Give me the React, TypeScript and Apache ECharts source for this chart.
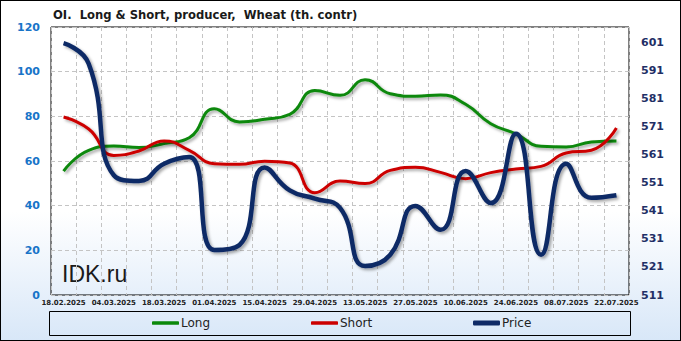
import React, { useEffect, useRef } from "react";
import * as echarts from "echarts";

const dates = [
  "18.02.2025", "25.02.2025", "04.03.2025", "11.03.2025", "18.03.2025", "25.03.2025",
  "01.04.2025", "08.04.2025", "15.04.2025", "22.04.2025", "29.04.2025", "06.05.2025",
  "13.05.2025", "20.05.2025", "27.05.2025", "03.06.2025", "10.06.2025", "17.06.2025",
  "24.06.2025", "01.07.2025", "08.07.2025", "15.07.2025", "22.07.2025",
];
const longValues = [
  55.5, 64.8, 66.7, 66.0, 67.8, 70.4, 83.4, 77.5, 78.7, 80.9, 91.6, 89.4,
  96.4, 90.1, 89.0, 89.6, 85.4, 76.7, 72.2, 66.6, 66.3, 68.5, 69.0,
];
const shortValues = [
  79.7, 74.3, 62.5, 64.5, 69.0, 64.8, 58.8, 58.5, 59.9, 59.1, 45.8, 51.0,
  49.9, 55.8, 57.2, 54.9, 52.1, 54.8, 56.4, 57.6, 63.6, 64.8, 74.8,
];
const priceValues = [
  600.6, 593.3, 553.6, 551.6, 557.7, 560.1, 527.0, 528.8, 556.4, 548.2, 545.3, 542.0,
  521.3, 525.3, 542.7, 534.2, 555.1, 543.7, 568.4, 525.3, 557.7, 545.6, 546.5,
];
const leftTicks = [0, 20, 40, 60, 80, 100, 120];
const rightTicks = [511, 521, 531, 541, 551, 561, 571, 581, 591, 601];

const titleText = "OI.  Long & Short, producer,  Wheat (th. contr)";
const seriesNames = ["Long", "Short", "Price"];
const seriesColors = ["#0a880a", "#cc0000", "#0f2a66"];

export default function App() {
  const ref = useRef<HTMLDivElement>(null);
  useEffect(() => {
    if (!ref.current) return;
    const chart = echarts.init(ref.current, null, { renderer: "svg" });
    const shadow = {
      shadowColor: "rgba(0,0,0,0.35)",
      shadowBlur: 3,
      shadowOffsetX: 2,
      shadowOffsetY: 2,
    };
    const legendLefts = [152, 311, 473];
    const legendThick = [3.5, 3.5, 5];
    const smoothness = 0.5;
    chart.setOption({
      animation: false,
      backgroundColor: {
        type: "linear",
        x: 0, y: 0, x2: 0, y2: 1,
        colorStops: [
          { offset: 0, color: "#ffffff" },
          { offset: 0.62, color: "#ffffff" },
          { offset: 1, color: "#d8e7f8" },
        ],
      },
      title: {
        text: titleText,
        left: 48,
        top: 4,
        textStyle: {
          fontFamily: "DejaVu Sans",
          fontWeight: "bold",
          fontSize: 11.6,
          color: "#1a1a1a",
        },
      },
      grid: {
        left: 51,
        right: 52,
        top: 27,
        bottom: 46,
        show: true,
        borderColor: "#000",
        borderWidth: 1,
        backgroundColor: "transparent",
      },
      legend: seriesNames.map((n, i) => ({
        data: [{ name: n, icon: "roundRect" }],
        left: legendLefts[i],
        top: 317,
        padding: 0,
        itemWidth: 27,
        itemHeight: legendThick[i],
        itemGap: 3,
        itemStyle: { shadowBlur: 0, shadowOffsetX: 0, shadowOffsetY: 0 },
        textStyle: {
          fontFamily: "DejaVu Sans",
          fontSize: 12,
          color: "#222",
          padding: [0, 0, 0, -3],
        },
      })),
      xAxis: {
        type: "category",
        data: dates,
        boundaryGap: true,
        axisLine: { show: false },
        axisTick: { show: false },
        axisLabel: {
          interval: 1,
          margin: 4,
          fontFamily: "DejaVu Sans",
          fontWeight: "bold",
          fontSize: 7,
          color: "#222",
        },
        splitLine: {
          show: true,
          interval: 0,
          lineStyle: { color: "#c4c4c4", type: [4, 3], width: 1 },
        },
      },
      yAxis: [
        {
          type: "value",
          min: leftTicks[0],
          max: leftTicks[leftTicks.length - 1],
          interval: 20,
          axisLine: { show: false },
          axisTick: { show: false },
          axisLabel: {
            margin: 11,
            fontFamily: "DejaVu Sans",
            fontWeight: "bold",
            fontSize: 11,
            color: "#1874c8",
          },
          splitLine: {
            show: true,
            lineStyle: { color: "#c4c4c4", type: [4, 3], width: 1 },
          },
        },
        {
          type: "value",
          min: 511,
          max: 606.35,
          position: "right",
          axisLine: { show: false },
          axisTick: { show: false },
          splitLine: { show: false },
          axisLabel: {
            customValues: rightTicks,
            margin: 12,
            fontFamily: "DejaVu Sans",
            fontWeight: "bold",
            fontSize: 11,
            color: "#1f2f66",
          },
        },
      ],
      graphic: [
        {
          type: "rect",
          shape: { x: 49.5, y: 311.5, width: 581, height: 24 },
          style: { fill: "transparent", stroke: "#000", lineWidth: 1 },
          silent: true,
        },
        {
          type: "text",
          left: 62,
          top: 262,
          style: {
            text: "IDK.ru",
            fontFamily: "Liberation Sans",
            fontSize: 23,
            fill: "#1a1a1a",
          },
          silent: true,
        },
      ],
      series: [
        {
          name: seriesNames[0],
          type: "line",
          data: longValues,
          yAxisIndex: 0,
          smooth: smoothness,
          symbol: "none",
          color: seriesColors[0],
          lineStyle: { width: 3, color: seriesColors[0], ...shadow },
        },
        {
          name: seriesNames[1],
          type: "line",
          data: shortValues,
          yAxisIndex: 0,
          smooth: smoothness,
          symbol: "none",
          color: seriesColors[1],
          lineStyle: { width: 3, color: seriesColors[1], ...shadow },
        },
        {
          name: seriesNames[2],
          type: "line",
          data: priceValues,
          yAxisIndex: 1,
          smooth: smoothness,
          symbol: "none",
          color: seriesColors[2],
          lineStyle: { width: 4.5, color: seriesColors[2], ...shadow },
        },
      ],
    });
    return () => chart.dispose();
  }, []);
  return (
    <div
      style={{
        position: "fixed",
        left: 0,
        top: 0,
        width: 681,
        height: 341,
        boxSizing: "border-box",
        border: "1px solid #000",
        overflow: "hidden",
      }}
    >
      <div ref={ref} style={{ position: "absolute", left: -1, top: -1, width: 681, height: 341 }} />
    </div>
  );
}
